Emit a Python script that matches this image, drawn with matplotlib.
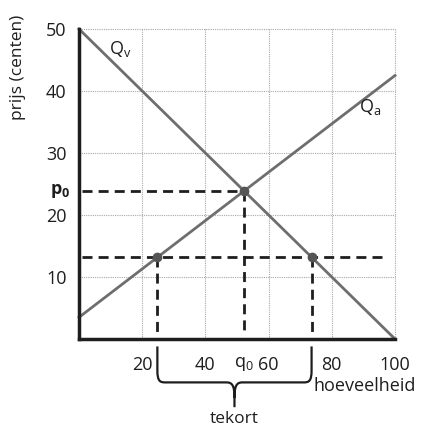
import matplotlib
matplotlib.use("Agg")
import matplotlib.pyplot as plt
from matplotlib.path import Path
from matplotlib.patches import PathPatch

plt.rcParams['font.family'] = ['Open Sans', 'DejaVu Sans']

# data
demand_q = [0, 100]
demand_p = [50, 0]
supply_q = [0, 100]
supply_p = [3.5, 42.5]
q0, p0 = 52.2, 23.9
ceiling = 13.2
q_supply_c = 24.8
q_demand_c = 73.6
xticks = [20, 40, 60, 80, 100]
yticks = [10, 20, 30, 40, 50]

fig = plt.figure(figsize=(4.21, 4.30), dpi=100)
ax = fig.add_axes([79/421, 1-339/430, 316/421, 310/430])
ax.set_xlim(0, 100)
ax.set_ylim(0, 50)

for v in xticks:
    ax.plot([v, v], [0, 50], ls=(0, (1, 1)), color='#a8a8a8', lw=0.8, clip_on=False, zorder=1)
for v in yticks:
    ax.plot([0, 100], [v, v], ls=(0, (1, 1)), color='#a8a8a8', lw=0.8, clip_on=False, zorder=1)

gray = '#6e6e6e'
ax.plot(demand_q, demand_p, color=gray, lw=2, clip_on=False, zorder=3)
ax.plot(supply_q, supply_p, color=gray, lw=2, clip_on=False, zorder=3)

dash = (0, (3.6, 2.2))
k = '#1e1e1e'
ax.plot([1, q0], [p0, p0], color=k, lw=2, ls=dash, zorder=2)
ax.plot([q0, q0], [p0, 1], color=k, lw=2, ls=dash, zorder=2)
ax.plot([1, 97.5], [ceiling, ceiling], color=k, lw=2, ls=dash, zorder=2)
ax.plot([q_supply_c, q_supply_c], [ceiling, 0.5], color=k, lw=2, ls=dash, zorder=2)
ax.plot([q_demand_c, q_demand_c], [ceiling, 0.5], color=k, lw=2, ls=dash, zorder=2)

ax.plot([q_supply_c, q_demand_c, q0], [ceiling, ceiling, p0], 'o', ms=6,
        color='#555555', zorder=4)

# brace
c = (q_supply_c + q_demand_c) / 2
verts = [(q_supply_c, -1.2), (q_supply_c, -5), (q_supply_c, -6.8), (q_supply_c + 0.8, -7), (q_supply_c + 2.5, -7),
         (c - 2.5, -7), (c - 0.6, -7), (c, -7.6), (c, -9.5), (c, -11.0),
         (q_demand_c, -1.2), (q_demand_c, -5), (q_demand_c, -6.8), (q_demand_c - 0.8, -7), (q_demand_c - 2.5, -7),
         (c + 2.5, -7), (c + 0.6, -7), (c, -7.6), (c, -9.5)]
codes = [Path.MOVETO, Path.LINETO, Path.CURVE4, Path.CURVE4, Path.CURVE4,
         Path.LINETO, Path.CURVE4, Path.CURVE4, Path.CURVE4, Path.LINETO,
         Path.MOVETO, Path.LINETO, Path.CURVE4, Path.CURVE4, Path.CURVE4,
         Path.LINETO, Path.CURVE4, Path.CURVE4, Path.CURVE4]
ax.add_patch(PathPatch(Path(verts, codes), fill=False, lw=1.6, ec=k, clip_on=False))
ax.text(c, -12.9, 'tekort', ha='center', va='center', fontsize=12.5, color=k)

for s in ['top', 'right']:
    ax.spines[s].set_visible(False)
for s in ['left', 'bottom']:
    ax.spines[s].set_linewidth(2.5)
    ax.spines[s].set_color(k)
    ax.spines[s].set_zorder(5)

ax.set_xticks(xticks)
ax.set_yticks(yticks)
ax.tick_params(length=0, labelsize=13, colors=k)
ax.tick_params(axis='x', pad=12)
ax.tick_params(axis='y', pad=9)

ax.text(q0, -4.0, r'$\mathregular{q_0}$', ha='center', va='center', fontsize=13, color=k)
ax.text(-2.6, p0, r'$\mathregular{p_0}$', ha='right', va='center', fontsize=13, color=k,
        fontweight='bold')
ax.text(13, 46.8, r'$\mathregular{Q_v}$', ha='center', va='center', fontsize=13, color=k)
ax.text(92, 37.4, r'$\mathregular{Q_a}$', ha='center', va='center', fontsize=13, color=k)
ax.text(90.5, -7.6, 'hoeveelheid', ha='center', va='center', fontsize=13, color=k)

fig.text(18/421, 1-67/430, 'prijs (centen)', rotation=90, ha='center', va='center',
         fontsize=12.5, color=k)

fig.savefig('out.png', dpi=100)
